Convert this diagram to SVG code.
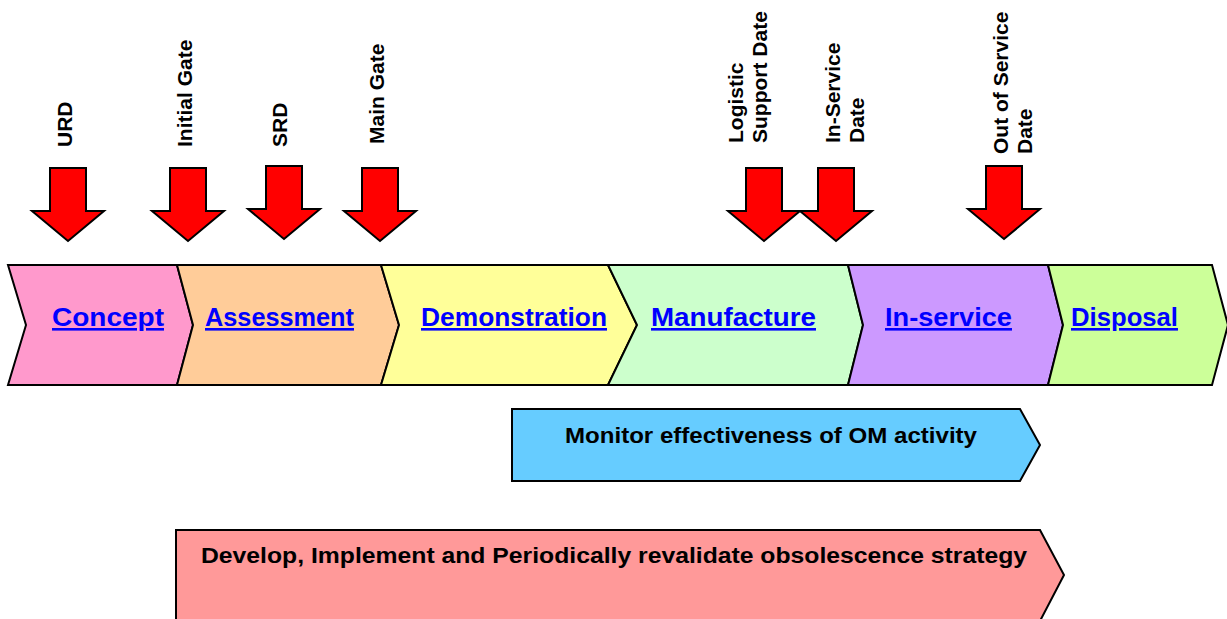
<svg xmlns="http://www.w3.org/2000/svg" width="1227" height="619" viewBox="0 0 1227 619">
<style>
.stage{stroke:#000;stroke-width:2;stroke-linejoin:miter}
.lbl{font-family:"Liberation Sans",Arial,sans-serif;font-weight:bold;font-size:26px;fill:#0000FF;text-decoration:underline}
.ms{font-family:"Liberation Sans",Arial,sans-serif;font-weight:bold;font-size:21px;fill:#000}
.act{font-family:"Liberation Sans",Arial,sans-serif;font-weight:bold;font-size:22px;fill:#000}
.arrow{fill:#FF0000;stroke:#000;stroke-width:2;stroke-linejoin:miter}
</style>
<rect width="1227" height="619" fill="#fff"/>
<defs>
<path id="darrow" d="M-18,0 H18 V43 H36 L0,73 L-36,43 H-18 Z"/>
</defs>

<g id="concept">
<polygon class="stage" fill="#FF99CC" points="8,265 177,265 193,325 177,385 8,385 26,325"/>
<text class="lbl" x="52" y="326" textLength="112" lengthAdjust="spacingAndGlyphs">Concept</text>
</g>
<g id="assessment">
<polygon class="stage" fill="#FFCC99" points="177,265 381,265 399,325 381,385 177,385 193,325"/>
<text class="lbl" x="205" y="326" textLength="149" lengthAdjust="spacingAndGlyphs">Assessment</text>
</g>
<g id="demonstration">
<polygon class="stage" fill="#FFFF99" points="381,265 608,265 637,325 608,385 381,385 399,325"/>
<text class="lbl" x="421" y="326" textLength="186" lengthAdjust="spacingAndGlyphs">Demonstration</text>
</g>
<g id="manufacture">
<polygon class="stage" fill="#CCFFCC" points="608,265 848,265 863,325 848,385 608,385 637,325"/>
<text class="lbl" x="651" y="326" textLength="165" lengthAdjust="spacingAndGlyphs">Manufacture</text>
</g>
<g id="in-service">
<polygon class="stage" fill="#CC99FF" points="848,265 1048,265 1063,325 1048,385 848,385 863,325"/>
<text class="lbl" x="885" y="326" textLength="127" lengthAdjust="spacingAndGlyphs">In-service</text>
</g>
<g id="disposal">
<polygon class="stage" fill="#CCFF99" points="1048,265 1212,265 1228,325 1212,385 1048,385 1063,325"/>
<text class="lbl" x="1071" y="326" textLength="107" lengthAdjust="spacingAndGlyphs">Disposal</text>
</g>

<g id="monitor">
<polygon class="stage" fill="#66CCFF" points="512,409 1020,409 1040,445 1020,481 512,481"/>
<text class="act" x="565" y="443" textLength="412" lengthAdjust="spacingAndGlyphs">Monitor effectiveness of OM activity</text>
</g>
<g id="strategy">
<polygon class="stage" fill="#FF9999" points="176,530 1040,530 1064,575 1040,621 176,621"/>
<text class="act" x="201" y="563" textLength="826" lengthAdjust="spacingAndGlyphs">Develop, Implement and Periodically revalidate obsolescence strategy</text>
</g>

<g id="urd">
<use href="#darrow" class="arrow" x="68" y="168"/>
<text class="ms" transform="translate(72,147) rotate(-90)">URD</text>
</g>
<g id="initial-gate">
<use href="#darrow" class="arrow" x="188" y="168"/>
<text class="ms" transform="translate(192,147) rotate(-90)">Initial Gate</text>
</g>
<g id="srd">
<use href="#darrow" class="arrow" x="284" y="166"/>
<text class="ms" transform="translate(287,147) rotate(-90)">SRD</text>
</g>
<g id="main-gate">
<use href="#darrow" class="arrow" x="380" y="168"/>
<text class="ms" transform="translate(384,144) rotate(-90)">Main Gate</text>
</g>
<g id="logistic-support-date">
<use href="#darrow" class="arrow" x="764" y="168"/>
<text class="ms" transform="translate(743,143) rotate(-90)">Logistic</text>
<text class="ms" transform="translate(767,143) rotate(-90)">Support Date</text>
</g>
<g id="in-service-date">
<use href="#darrow" class="arrow" x="836" y="168"/>
<text class="ms" transform="translate(840,143) rotate(-90)">In-Service</text>
<text class="ms" transform="translate(864,143) rotate(-90)">Date</text>
</g>
<g id="out-of-service-date">
<use href="#darrow" class="arrow" x="1004" y="166"/>
<text class="ms" transform="translate(1008,154) rotate(-90)">Out of Service</text>
<text class="ms" transform="translate(1032,154) rotate(-90)">Date</text>
</g>
<g id="connectors"></g>
</svg>
